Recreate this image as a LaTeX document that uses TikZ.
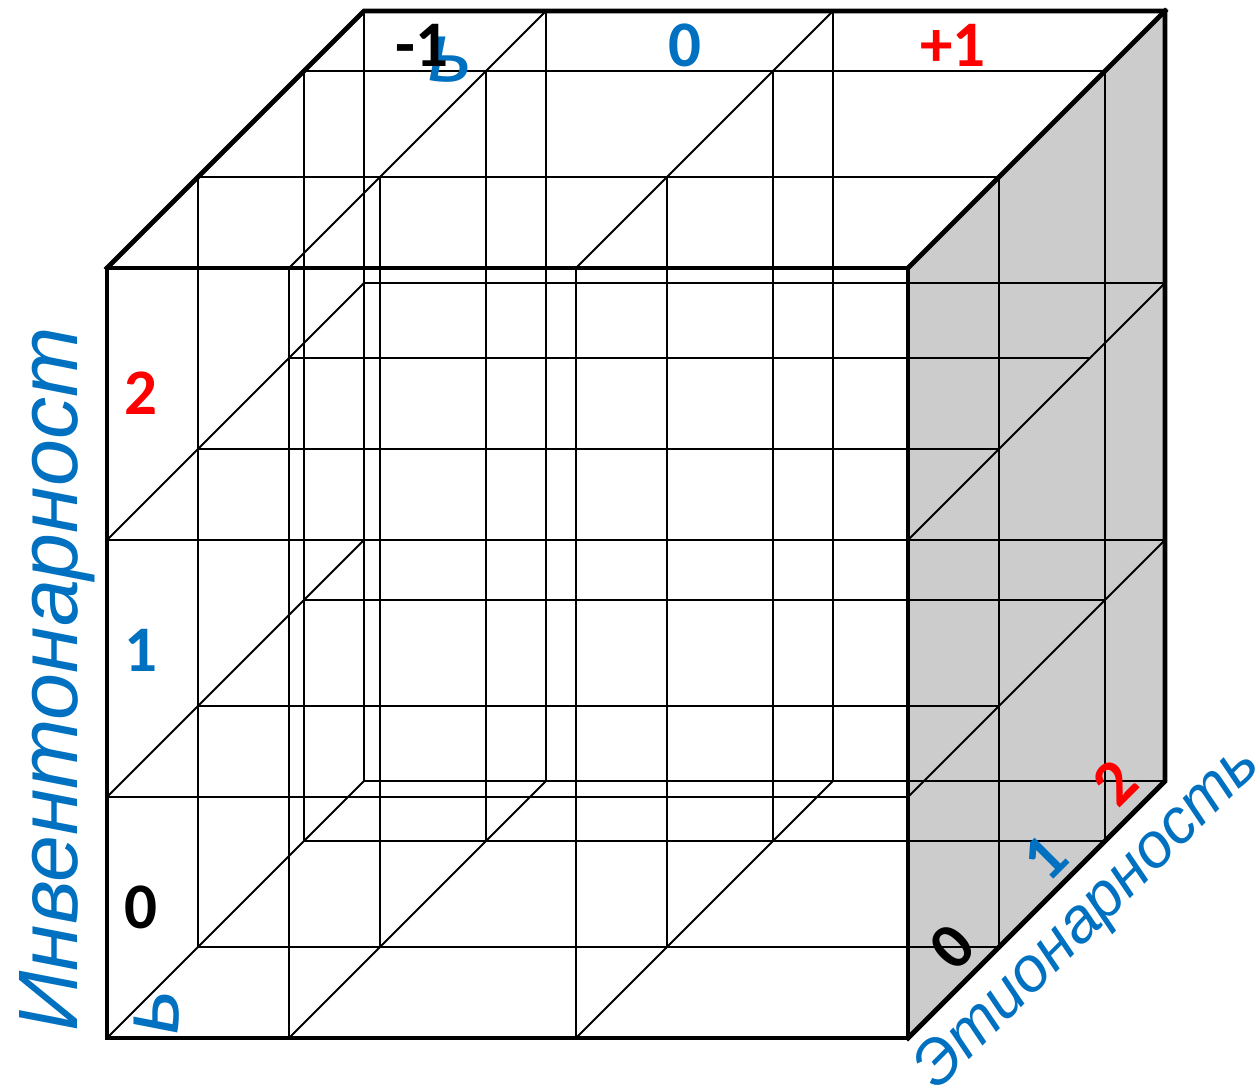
\documentclass[tikz,border=0pt]{standalone}
\usepackage{fontspec}
\newfontfamily\numfont{Carlito}
\newfontfamily\axisfont{Liberation Sans}
\usetikzlibrary{positioning}
\definecolor{officeblue}{HTML}{0070C0}
\definecolor{facegray}{HTML}{CCCCCC}
\tikzset{
    gridline/.style={line width=1.1pt},
    edgeline/.style={line width=2.8pt, line cap=rect},
    numlabel/.style={font=\numfont\bfseries\fontsize{37}{40}\selectfont, inner sep=0pt},
    axislabel/.style={font=\axisfont\itshape\fontsize{#1}{#1}\selectfont, text=officeblue, inner sep=0pt},
    axislabel/.default=48
}

\begin{document}
\begin{tikzpicture}[x=0.02cm, y=-0.02cm]
    \useasboundingbox (0,0) rectangle (1256,1091);

    % --- Shaded right face ---
    \fill[facegray] (908,268) -- (1165,11) -- (1165,781) -- (908,1038) -- cycle;

    % --- Vertical lines of the depth layers ---
    \foreach \c in {107, 289, 576, 908} {
        \foreach \d in {91, 197, 257} {
            \draw[gridline] (\c+\d, 268-\d) -- (\c+\d, 1038-\d);
        }
    }
    \foreach \c in {289, 576} \draw[gridline] (\c, 268) -- (\c, 1038);

    % --- Horizontal lines of the depth layers ---
    \foreach \r/\m in {268/197, 540/182, 797/197, 1038/197} {
        \foreach \d in {91, \m, 257} {
            \draw[gridline] (107+\d, \r-\d) -- (908+\d, \r-\d);
        }
    }
    \foreach \r in {540, 797} \draw[gridline] (107, \r) -- (908, \r);

    % --- Depth lines ---
    \foreach \c/\r in {107/540, 107/797, 107/1038, 289/268, 289/1038, 576/268, 576/1038, 908/540, 908/797}
        \draw[gridline] (\c, \r) -- ++(257, -257);

    % --- Outer edges ---
    \draw[edgeline] (107,268) rectangle (908,1038);
    \draw[edgeline] (107,268) -- (364,11) -- (1165,11) -- (1165,781) -- (908,1038);
    \draw[edgeline] (908,268) -- (1165,11);

    % --- Axis titles ---
    \node[axislabel, rotate=90, anchor=base west] (invtitle) at (77,1032) {Инвентонарност};
    \node[axislabel, rotate=90, anchor=base west] (invtail) at (178,1035) {ь};
    \node[axislabel, anchor=base west] (toptail) at (428,82) {ь};
    \node[axislabel=36, rotate=45] (etititle) at (1089,918) {Этионарность};

    % --- Value labels ---
    \node[numlabel, text=red] (inv2) at (141,393) {2};
    \node[numlabel, text=officeblue] (inv1) at (141,650) {1};
    \node[numlabel] (inv0) at (141,907) {0};

    \node[numlabel] (topm1) at (422,45) {-1};
    \node[numlabel, text=officeblue] (top0) at (685,45) {0};
    \node[numlabel, text=red] (topp1) at (953,45) {+1};

    \node[numlabel, rotate=45] (eti0) at (952,947) {0};
    \node[numlabel, rotate=45, text=officeblue] (eti1) at (1045,858) {1};
    \node[numlabel, rotate=45, text=red] (eti2) at (1115,783) {2};
\end{tikzpicture}
\end{document}
